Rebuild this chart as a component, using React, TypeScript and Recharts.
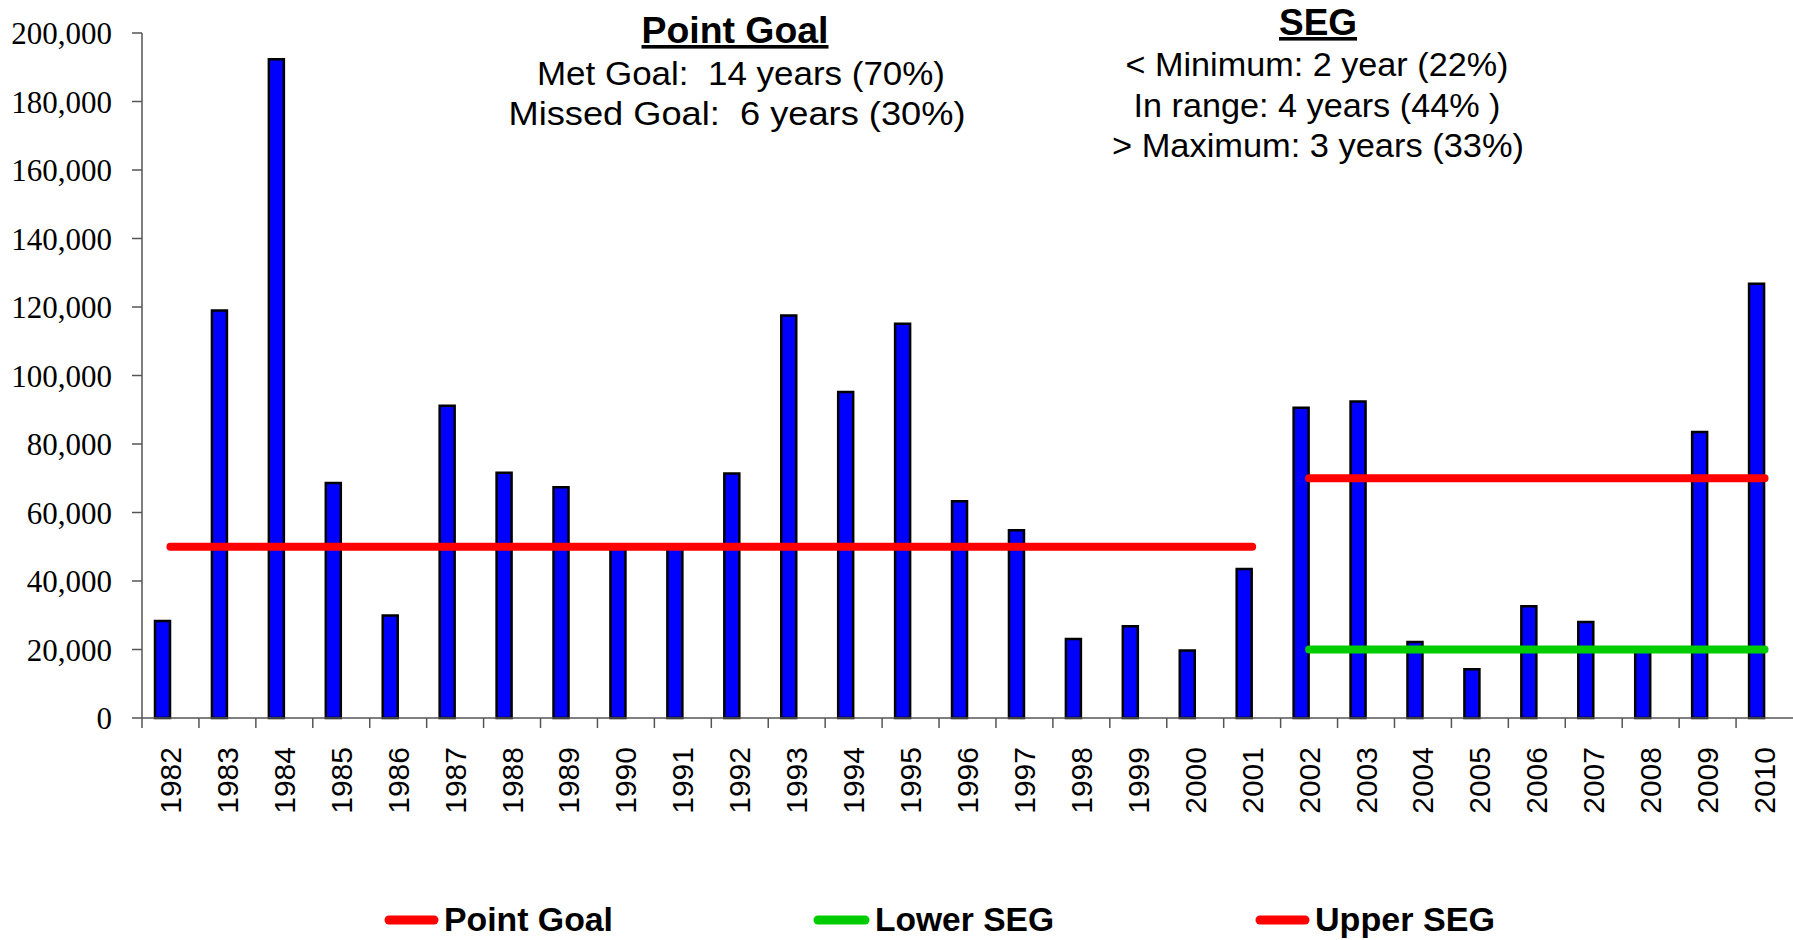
import React from 'react';
import { ComposedChart, Bar, Line, XAxis, YAxis } from 'recharts';

const years = ['1982','1983','1984','1985','1986','1987','1988','1989','1990','1991','1992','1993','1994','1995','1996','1997','1998','1999','2000','2001','2002','2003','2004','2005','2006','2007','2008','2009','2010'];
const escapement = [28300, 119000, 192300, 68600, 29900, 91200, 71600, 67400, 50500, 50500, 71400, 117500, 95200, 115100, 63300, 54800, 23100, 26800, 19700, 43500, 90600, 92400, 22200, 14200, 32600, 28000, 19500, 83500, 126800];
const pointGoal = [50000, 50000, 50000, 50000, 50000, 50000, 50000, 50000, 50000, 50000, 50000, 50000, 50000, 50000, 50000, 50000, 50000, 50000, 50000, 50000, null, null, null, null, null, null, null, null, null];
const lowerSEG = [null, null, null, null, null, null, null, null, null, null, null, null, null, null, null, null, null, null, null, null, 20000, 20000, 20000, 20000, 20000, 20000, 20000, 20000, 20000];
const upperSEG = [null, null, null, null, null, null, null, null, null, null, null, null, null, null, null, null, null, null, null, null, 70000, 70000, 70000, 70000, 70000, 70000, 70000, 70000, 70000];
const yTicks = [0, 20000, 40000, 60000, 80000, 100000, 120000, 140000, 160000, 180000, 200000];

const pointGoalNotes = ['Met Goal:  14 years (70%)', 'Missed Goal:  6 years (30%)'];
const segNotes = ['< Minimum: 2 year (22%)', 'In range: 4 years (44% )', '> Maximum: 3 years (33%)'];

const data = years.map((y, i) => ({
  year: y,
  escapement: escapement[i],
  spacer: null,
  pointGoal: pointGoal[i],
  lowerSEG: lowerSEG[i],
  upperSEG: upperSEG[i],
}));

const W = 1793;
const H = 940;
const MARGIN = { top: 33, right: 0, left: 0, bottom: 122 };
const YAXIS_W = 142;
const BAND = (W - MARGIN.left - MARGIN.right - YAXIS_W) / years.length;

const SANS = "'Liberation Sans', Arial, sans-serif";
const SERIF = "'Liberation Serif', 'Times New Roman', serif";
const AXIS_COLOR = '#555555';

const XTick = (props: any) => {
  const { x, y, payload } = props;
  const half = BAND / 2;
  return (
    <g>
      <line x1={x - half} x2={x - half} y1={y} y2={y + 10} stroke={AXIS_COLOR} strokeWidth={1.5} />
      <text
        transform={`translate(${x},${y + 29}) rotate(-90)`}
        textAnchor="end"
        dominantBaseline="central"
        fontFamily={SANS}
        fontSize={30}
        fill="#000"
      >
        {payload.value}
      </text>
    </g>
  );
};

const fmt = (v: number) => v.toLocaleString('en-US');

export default function App() {
  return (
    <div style={{ position: 'absolute', left: 0, top: 0, width: W, height: H, background: '#fff' }}>
      <ComposedChart width={W} height={H} data={data} margin={MARGIN} barGap={0}>
        <XAxis
          dataKey="year"
          interval={0}
          height={100}
          tickLine={false}
          tickSize={0}
          tickMargin={0}
          axisLine={{ stroke: AXIS_COLOR, strokeWidth: 1.5 }}
          tick={<XTick />}
        />
        <YAxis
          width={YAXIS_W}
          domain={[0, 200000]}
          ticks={yTicks}
          interval={0}
          tickSize={10}
          tickMargin={20}
          tickFormatter={fmt}
          axisLine={{ stroke: AXIS_COLOR, strokeWidth: 1.5 }}
          tickLine={{ stroke: AXIS_COLOR, strokeWidth: 1.5 }}
          tick={{ fontFamily: SERIF, fontSize: 31, fill: '#000' }}
        />
        <Bar dataKey="escapement" barSize={15} fill="#0000FF" stroke="#000" strokeWidth={2.5} isAnimationActive={false} />
        <Bar dataKey="spacer" barSize={15} fill="none" isAnimationActive={false} />
        <Line dataKey="pointGoal" stroke="#FF0000" strokeWidth={8} strokeLinecap="round" dot={false} activeDot={false} isAnimationActive={false} />
        <Line dataKey="lowerSEG" stroke="#00CC00" strokeWidth={8} strokeLinecap="round" dot={false} activeDot={false} isAnimationActive={false} />
        <Line dataKey="upperSEG" stroke="#FF0000" strokeWidth={8} strokeLinecap="round" dot={false} activeDot={false} isAnimationActive={false} />
      </ComposedChart>
      <svg width={W} height={H} style={{ position: 'absolute', left: 0, top: 0, pointerEvents: 'none' }}>
        <g fontFamily={SANS} fill="#000">
          <text x={735} y={43} textAnchor="middle" fontSize={36} fontWeight="bold" textLength={187} lengthAdjust="spacingAndGlyphs" style={{ textDecoration: 'underline' }}>Point Goal</text>
          <text x={741} y={85} textAnchor="middle" fontSize={33} textLength={408} lengthAdjust="spacingAndGlyphs" style={{ whiteSpace: 'pre' }}>{pointGoalNotes[0]}</text>
          <text x={737} y={125} textAnchor="middle" fontSize={33} textLength={457} lengthAdjust="spacingAndGlyphs" style={{ whiteSpace: 'pre' }}>{pointGoalNotes[1]}</text>

          <text x={1318} y={35} textAnchor="middle" fontSize={36} fontWeight="bold" textLength={78} lengthAdjust="spacingAndGlyphs" style={{ textDecoration: 'underline' }}>SEG</text>
          <text x={1317} y={76} textAnchor="middle" fontSize={33} textLength={383} lengthAdjust="spacingAndGlyphs" style={{ whiteSpace: 'pre' }}>{segNotes[0]}</text>
          <text x={1317} y={117} textAnchor="middle" fontSize={33} textLength={367} lengthAdjust="spacingAndGlyphs" style={{ whiteSpace: 'pre' }}>{segNotes[1]}</text>
          <text x={1318} y={157} textAnchor="middle" fontSize={33} textLength={412} lengthAdjust="spacingAndGlyphs" style={{ whiteSpace: 'pre' }}>{segNotes[2]}</text>
        </g>
        <g fontFamily={SANS} fontWeight="bold" fontSize={33} fill="#000">
          <line x1={389} x2={434} y1={920} y2={920} stroke="#FF0000" strokeWidth={9} strokeLinecap="round" />
          <text x={444} y={931} textLength={169} lengthAdjust="spacingAndGlyphs">Point Goal</text>
          <line x1={818} x2={865} y1={920} y2={920} stroke="#00CC00" strokeWidth={9} strokeLinecap="round" />
          <text x={875} y={931} textLength={179} lengthAdjust="spacingAndGlyphs">Lower SEG</text>
          <line x1={1260} x2={1305} y1={920} y2={920} stroke="#FF0000" strokeWidth={9} strokeLinecap="round" />
          <text x={1315} y={931} textLength={180} lengthAdjust="spacingAndGlyphs">Upper SEG</text>
        </g>
      </svg>
    </div>
  );
}
